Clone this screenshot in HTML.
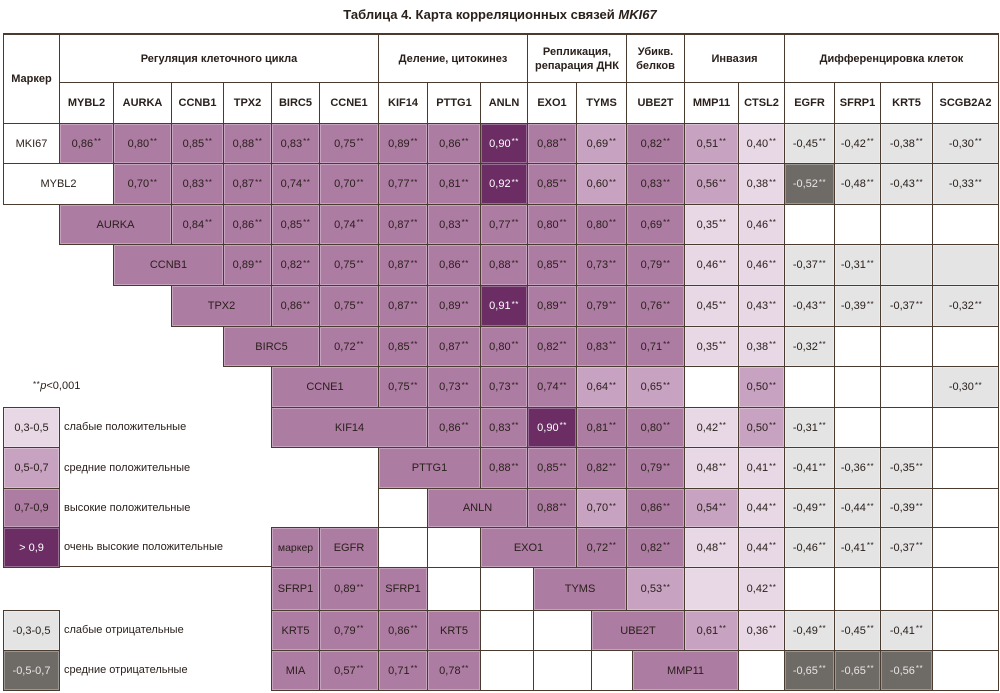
<!DOCTYPE html>
<html><head><meta charset="utf-8">
<style>
body{margin:0;width:1000px;height:693px;background:#fff;position:relative;overflow:hidden;font-family:"Liberation Sans",Arial,sans-serif;color:#2a201c}
.c{position:absolute;box-sizing:border-box;border:1px solid #4a3b31;display:flex;align-items:center;justify-content:center;font-size:11px;text-align:center;box-shadow:inset 0 0 0 1px rgba(255,255,255,.3);white-space:nowrap}
.h{background:#ad7ca2}.m{background:#c7a2c1}.l{background:#e8d8e5}.v{background:#6b2d63;color:#fff}
.g{background:#e4e4e4}.d{background:#6e6a66;color:#e6e6e6}.w{background:#fff}
.c i,.t i.s{font-style:normal;font-size:8px;position:relative;top:-2px;margin-left:1px;letter-spacing:.5px}
.b{font-weight:bold}
.sh{top:82px;height:42px}
.k0{left:3px;width:57px}.k1{left:59px;width:55px}.k2{left:113px;width:59px}.k3{left:171px;width:53px}
.k4{left:223px;width:49px}.k5{left:271px;width:49px}.k6{left:319px;width:60px}.k7{left:378px;width:50px}
.k8{left:427px;width:54px}.k9{left:480px;width:48px}.k10{left:527px;width:50px}.k11{left:576px;width:51px}
.k12{left:626px;width:59px}.k13{left:684px;width:55px}.k14{left:738px;width:47px}.k15{left:784px;width:51px}
.k16{left:834px;width:47px}.k17{left:880px;width:53px}.k18{left:932px;width:67px}
.r0{top:123px;height:41px}.r1{top:163px;height:42px}.r2{top:204px;height:41px}.r3{top:244px;height:42px}
.r4{top:285px;height:42px}.r5{top:326px;height:41px}.r6{top:366px;height:42px}.r7{top:407px;height:41px}
.r8{top:447px;height:42px}.r9{top:488px;height:40px}.r10{top:527px;height:41px}.r11{top:567px;height:44px}
.r12{top:610px;height:41px}.r13{top:650px;height:41px}
.t{position:absolute;left:64px;font-size:11px;line-height:14px;white-space:nowrap}
.title{position:absolute;left:0;top:6px;width:1000px;text-align:center;font-weight:bold;font-size:13px;line-height:18px}
</style></head><body>
<div class="title">Таблица 4. Карта корреляционных связей <i>MKI67</i></div>

<!-- header -->
<div class="c w b" style="left:3px;top:34px;width:57px;height:90px">Маркер</div>
<div class="c w b" style="left:59px;top:34px;width:320px;height:49px">Регуляция клеточного цикла</div>
<div class="c w b" style="left:378px;top:34px;width:150px;height:49px">Деление, цитокинез</div>
<div class="c w b" style="left:527px;top:34px;width:100px;height:49px;line-height:14px">Репликация,<br>репарация ДНК</div>
<div class="c w b" style="left:626px;top:34px;width:59px;height:49px;line-height:14px">Убикв.<br>белков</div>
<div class="c w b" style="left:684px;top:34px;width:101px;height:49px">Инвазия</div>
<div class="c w b" style="left:784px;top:34px;width:215px;height:49px">Дифференцировка клеток</div>

<div class="c w b sh k1">MYBL2</div><div class="c w b sh k2">AURKA</div><div class="c w b sh k3">CCNB1</div>
<div class="c w b sh k4">TPX2</div><div class="c w b sh k5">BIRC5</div><div class="c w b sh k6">CCNE1</div>
<div class="c w b sh k7">KIF14</div><div class="c w b sh k8">PTTG1</div><div class="c w b sh k9">ANLN</div>
<div class="c w b sh k10">EXO1</div><div class="c w b sh k11">TYMS</div><div class="c w b sh k12">UBE2T</div>
<div class="c w b sh k13">MMP11</div><div class="c w b sh k14">CTSL2</div><div class="c w b sh k15">EGFR</div>
<div class="c w b sh k16">SFRP1</div><div class="c w b sh k17">KRT5</div><div class="c w b sh k18">SCGB2A2</div>

<!-- row 0 MKI67 -->
<div class="c w k0 r0">MKI67</div>
<div class="c h k1 r0">0,86<i>**</i></div><div class="c h k2 r0">0,80<i>**</i></div><div class="c h k3 r0">0,85<i>**</i></div>
<div class="c h k4 r0">0,88<i>**</i></div><div class="c h k5 r0">0,83<i>**</i></div><div class="c h k6 r0">0,75<i>**</i></div>
<div class="c h k7 r0">0,89<i>**</i></div><div class="c h k8 r0">0,86<i>**</i></div><div class="c v k9 r0">0,90<i>**</i></div>
<div class="c h k10 r0">0,88<i>**</i></div><div class="c m k11 r0">0,69<i>**</i></div><div class="c h k12 r0">0,82<i>**</i></div>
<div class="c m k13 r0">0,51<i>**</i></div><div class="c l k14 r0">0,40<i>**</i></div><div class="c g k15 r0">-0,45<i>**</i></div>
<div class="c g k16 r0">-0,42<i>**</i></div><div class="c g k17 r0">-0,38<i>**</i></div><div class="c g k18 r0">-0,30<i>**</i></div>

<!-- row 1 MYBL2 -->
<div class="c w r1" style="left:3px;width:111px">MYBL2</div>
<div class="c h k2 r1">0,70<i>**</i></div><div class="c h k3 r1">0,83<i>**</i></div>
<div class="c h k4 r1">0,87<i>**</i></div><div class="c h k5 r1">0,74<i>**</i></div><div class="c h k6 r1">0,70<i>**</i></div>
<div class="c h k7 r1">0,77<i>**</i></div><div class="c h k8 r1">0,81<i>**</i></div><div class="c v k9 r1">0,92<i>**</i></div>
<div class="c h k10 r1">0,85<i>**</i></div><div class="c m k11 r1">0,60<i>**</i></div><div class="c h k12 r1">0,83<i>**</i></div>
<div class="c m k13 r1">0,56<i>**</i></div><div class="c l k14 r1">0,38<i>**</i></div><div class="c d k15 r1">-0,52<i>**</i></div>
<div class="c g k16 r1">-0,48<i>**</i></div><div class="c g k17 r1">-0,43<i>**</i></div><div class="c g k18 r1">-0,33<i>**</i></div>

<!-- row 2 AURKA -->
<div class="c h r2" style="left:59px;width:113px">AURKA</div>
<div class="c h k3 r2">0,84<i>**</i></div>
<div class="c h k4 r2">0,86<i>**</i></div><div class="c h k5 r2">0,85<i>**</i></div><div class="c h k6 r2">0,74<i>**</i></div>
<div class="c h k7 r2">0,87<i>**</i></div><div class="c h k8 r2">0,83<i>**</i></div><div class="c h k9 r2">0,77<i>**</i></div>
<div class="c h k10 r2">0,80<i>**</i></div><div class="c h k11 r2">0,80<i>**</i></div><div class="c h k12 r2">0,69<i>**</i></div>
<div class="c l k13 r2">0,35<i>**</i></div><div class="c l k14 r2">0,46<i>**</i></div><div class="c w k15 r2"></div>
<div class="c w k16 r2"></div><div class="c w k17 r2"></div><div class="c w k18 r2"></div>

<!-- row 3 CCNB1 -->
<div class="c h r3" style="left:113px;width:111px">CCNB1</div>
<div class="c h k4 r3">0,89<i>**</i></div><div class="c h k5 r3">0,82<i>**</i></div><div class="c h k6 r3">0,75<i>**</i></div>
<div class="c h k7 r3">0,87<i>**</i></div><div class="c h k8 r3">0,86<i>**</i></div><div class="c h k9 r3">0,88<i>**</i></div>
<div class="c h k10 r3">0,85<i>**</i></div><div class="c h k11 r3">0,73<i>**</i></div><div class="c h k12 r3">0,79<i>**</i></div>
<div class="c l k13 r3">0,46<i>**</i></div><div class="c l k14 r3">0,46<i>**</i></div><div class="c g k15 r3">-0,37<i>**</i></div>
<div class="c g k16 r3">-0,31<i>**</i></div><div class="c g k17 r3"></div><div class="c g k18 r3"></div>

<!-- row 4 TPX2 -->
<div class="c h r4" style="left:171px;width:101px">TPX2</div>
<div class="c h k5 r4">0,86<i>**</i></div><div class="c h k6 r4">0,75<i>**</i></div>
<div class="c h k7 r4">0,87<i>**</i></div><div class="c h k8 r4">0,89<i>**</i></div><div class="c v k9 r4">0,91<i>**</i></div>
<div class="c h k10 r4">0,89<i>**</i></div><div class="c h k11 r4">0,79<i>**</i></div><div class="c h k12 r4">0,76<i>**</i></div>
<div class="c l k13 r4">0,45<i>**</i></div><div class="c l k14 r4">0,43<i>**</i></div><div class="c g k15 r4">-0,43<i>**</i></div>
<div class="c g k16 r4">-0,39<i>**</i></div><div class="c g k17 r4">-0,37<i>**</i></div><div class="c g k18 r4">-0,32<i>**</i></div>

<!-- row 5 BIRC5 -->
<div class="c h r5" style="left:223px;width:97px">BIRC5</div>
<div class="c h k6 r5">0,72<i>**</i></div>
<div class="c h k7 r5">0,85<i>**</i></div><div class="c h k8 r5">0,87<i>**</i></div><div class="c h k9 r5">0,80<i>**</i></div>
<div class="c h k10 r5">0,82<i>**</i></div><div class="c h k11 r5">0,83<i>**</i></div><div class="c h k12 r5">0,71<i>**</i></div>
<div class="c l k13 r5">0,35<i>**</i></div><div class="c l k14 r5">0,38<i>**</i></div><div class="c g k15 r5">-0,32<i>**</i></div>
<div class="c w k16 r5"></div><div class="c w k17 r5"></div><div class="c w k18 r5"></div>

<!-- row 6 CCNE1 -->
<div class="c h r6" style="left:271px;width:108px">CCNE1</div>
<div class="c h k7 r6">0,75<i>**</i></div><div class="c h k8 r6">0,73<i>**</i></div><div class="c h k9 r6">0,73<i>**</i></div>
<div class="c h k10 r6">0,74<i>**</i></div><div class="c m k11 r6">0,64<i>**</i></div><div class="c m k12 r6">0,65<i>**</i></div>
<div class="c w k13 r6"></div><div class="c m k14 r6">0,50<i>**</i></div><div class="c w k15 r6"></div>
<div class="c w k16 r6"></div><div class="c w k17 r6"></div><div class="c g k18 r6">-0,30<i>**</i></div>

<!-- row 7 KIF14 -->
<div class="c h r7" style="left:271px;width:157px">KIF14</div>
<div class="c h k8 r7">0,86<i>**</i></div><div class="c h k9 r7">0,83<i>**</i></div>
<div class="c v k10 r7">0,90<i>**</i></div><div class="c h k11 r7">0,81<i>**</i></div><div class="c h k12 r7">0,80<i>**</i></div>
<div class="c l k13 r7">0,42<i>**</i></div><div class="c m k14 r7">0,50<i>**</i></div><div class="c g k15 r7">-0,31<i>**</i></div>
<div class="c w k16 r7"></div><div class="c w k17 r7"></div><div class="c w k18 r7"></div>

<!-- row 8 PTTG1 -->
<div class="c h r8" style="left:378px;width:103px">PTTG1</div>
<div class="c h k9 r8">0,88<i>**</i></div>
<div class="c h k10 r8">0,85<i>**</i></div><div class="c h k11 r8">0,82<i>**</i></div><div class="c h k12 r8">0,79<i>**</i></div>
<div class="c l k13 r8">0,48<i>**</i></div><div class="c l k14 r8">0,41<i>**</i></div><div class="c g k15 r8">-0,41<i>**</i></div>
<div class="c g k16 r8">-0,36<i>**</i></div><div class="c g k17 r8">-0,35<i>**</i></div><div class="c w k18 r8"></div>

<!-- row 9 ANLN -->
<div class="c w k7 r9"></div>
<div class="c h r9" style="left:427px;width:101px">ANLN</div>
<div class="c h k10 r9">0,88<i>**</i></div><div class="c m k11 r9">0,70<i>**</i></div><div class="c h k12 r9">0,86<i>**</i></div>
<div class="c m k13 r9">0,54<i>**</i></div><div class="c l k14 r9">0,44<i>**</i></div><div class="c g k15 r9">-0,49<i>**</i></div>
<div class="c g k16 r9">-0,44<i>**</i></div><div class="c g k17 r9">-0,39<i>**</i></div><div class="c w k18 r9"></div>

<!-- row 10 EXO1 -->
<div class="c h k5 r10" style="font-size:10.5px">маркер</div><div class="c h k6 r10">EGFR</div>
<div class="c w k7 r10"></div><div class="c w k8 r10"></div>
<div class="c h r10" style="left:480px;width:97px">EXO1</div>
<div class="c h k11 r10">0,72<i>**</i></div><div class="c h k12 r10">0,82<i>**</i></div>
<div class="c l k13 r10">0,48<i>**</i></div><div class="c l k14 r10">0,44<i>**</i></div><div class="c g k15 r10">-0,46<i>**</i></div>
<div class="c g k16 r10">-0,41<i>**</i></div><div class="c g k17 r10">-0,37<i>**</i></div><div class="c w k18 r10"></div>

<!-- row 11 TYMS -->
<div class="c h k5 r11">SFRP1</div><div class="c h k6 r11">0,89<i>**</i></div><div class="c h k7 r11">SFRP1</div>
<div class="c w k8 r11"></div><div class="c w r11" style="left:480px;width:54px"></div>
<div class="c h r11" style="left:533px;width:94px">TYMS</div>
<div class="c m k12 r11">0,53<i>**</i></div><div class="c l k13 r11"></div><div class="c l k14 r11">0,42<i>**</i></div>
<div class="c w k15 r11"></div><div class="c w k16 r11"></div><div class="c w k17 r11"></div><div class="c w k18 r11"></div>

<!-- row 12 UBE2T -->
<div class="c h k5 r12">KRT5</div><div class="c h k6 r12">0,79<i>**</i></div><div class="c h k7 r12">0,86<i>**</i></div>
<div class="c h k8 r12">KRT5</div><div class="c w r12" style="left:480px;width:54px"></div>
<div class="c w r12" style="left:533px;width:59px"></div>
<div class="c h r12" style="left:591px;width:94px">UBE2T</div>
<div class="c m k13 r12">0,61<i>**</i></div><div class="c l k14 r12">0,36<i>**</i></div><div class="c g k15 r12">-0,49<i>**</i></div>
<div class="c g k16 r12">-0,45<i>**</i></div><div class="c g k17 r12">-0,41<i>**</i></div><div class="c w k18 r12"></div>

<!-- row 13 MMP11 -->
<div class="c h k5 r13">MIA</div><div class="c h k6 r13">0,57<i>**</i></div><div class="c h k7 r13">0,71<i>**</i></div>
<div class="c h k8 r13">0,78<i>**</i></div><div class="c w r13" style="left:480px;width:54px"></div>
<div class="c w r13" style="left:533px;width:59px"></div><div class="c w r13" style="left:591px;width:42px"></div>
<div class="c h r13" style="left:632px;width:107px">MMP11</div>
<div class="c w k14 r13"></div><div class="c d k15 r13">-0,65<i>**</i></div>
<div class="c d k16 r13">-0,65<i>**</i></div><div class="c d k17 r13">-0,56<i>**</i></div><div class="c w k18 r13"></div>

<!-- legend -->
<div class="t" style="left:33px;top:379px"><i class="s" style="margin-left:0">**</i><i>p</i>&lt;0,001</div>
<div class="c l k0 r7">0,3-0,5</div><div class="t" style="top:420px">слабые положительные</div>
<div class="c m k0 r8">0,5-0,7</div><div class="t" style="top:461px">средние положительные</div>
<div class="c h k0 r9">0,7-0,9</div><div class="t" style="top:501px">высокие положительные</div>
<div class="c v k0 r10">&gt; 0,9</div><div class="t" style="top:540px">очень высокие положительные</div>
<div style="position:absolute;left:59px;top:566px;width:212px;height:1px;background:#4a3b31"></div>
<div class="c g k0 r12">-0,3-0,5</div><div class="t" style="top:623px">слабые отрицательные</div>
<div class="c d k0 r13">-0,5-0,7</div><div class="t" style="top:663px">средние отрицательные</div>

<div style="position:absolute;left:3px;top:33px;width:996px;height:2px;background:#4a3b31"></div>
</body></html>
